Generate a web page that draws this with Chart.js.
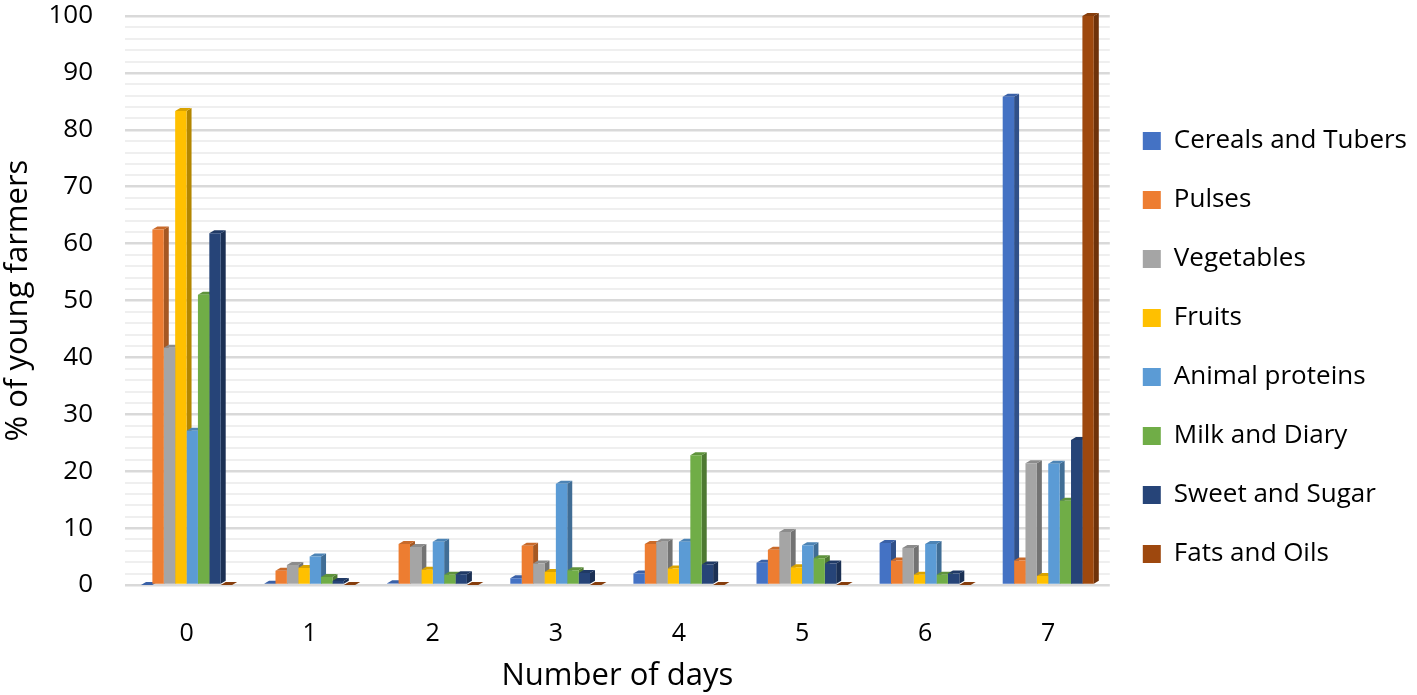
<!DOCTYPE html>
<html>
<head>
<meta charset="utf-8">
<script src="https://cdn.jsdelivr.net/npm/chart.js@4/dist/chart.umd.min.js"></script>
<style>
  html, body { margin: 0; padding: 0; background: #fff; }
  #wrap { width: 1417px; height: 695px; }
</style>
</head>
<body>
<div id="wrap"><canvas id="chart"></canvas></div>
<script>
const days = ["0", "1", "2", "3", "4", "5", "6", "7"];

const cereals = [0, 0.2, 0.3, 1.2, 2, 3.9, 7.4, 85.8];
const pulses = [62.5, 2.5, 7.2, 6.9, 7.2, 6.2, 4.3, 4.3];
const vegetables = [41.7, 3.5, 6.7, 3.8, 7.6, 9.3, 6.5, 21.4];
const fruits = [83.3, 3, 2.7, 2.3, 2.9, 3.1, 1.8, 1.6];
const animalProteins = [27.1, 5, 7.6, 17.8, 7.6, 7, 7.2, 21.3];
const milkDiary = [51, 1.4, 1.8, 2.6, 22.8, 4.7, 1.8, 14.8];
const sweetSugar = [61.8, 0.7, 1.9, 2.1, 3.6, 3.8, 2, 25.5];
const fatsOils = [0, 0, 0, 0, 0, 0, 0, 100];

const yTicks = [0, 10, 20, 30, 40, 50, 60, 70, 80, 90, 100];

const series = [
  { label: "Cereals and Tubers", data: cereals, color: "#4472C4" },
  { label: "Pulses", data: pulses, color: "#ED7D31" },
  { label: "Vegetables", data: vegetables, color: "#A5A5A5" },
  { label: "Fruits", data: fruits, color: "#FFC000" },
  { label: "Animal proteins", data: animalProteins, color: "#5B9BD5" },
  { label: "Milk and Diary", data: milkDiary, color: "#70AD47" },
  { label: "Sweet and Sugar", data: sweetSugar, color: "#264478" },
  { label: "Fats and Oils", data: fatsOils, color: "#9E480E" },
];

function shade(hex, k) {
  const n = parseInt(hex.slice(1), 16);
  const r = Math.round(((n >> 16) & 255) * k);
  const g = Math.round(((n >> 8) & 255) * k);
  const b = Math.round((n & 255) * k);
  return `rgb(${r},${g},${b})`;
}

// fake excel 3d look: side + top faces drawn under the bar fronts
const depthFaces = {
  id: "depthFaces",
  beforeDatasetsDraw(chart) {
    const ctx = chart.ctx;
    const dx = 5, dy = -3;
    ctx.save();
    chart.data.datasets.forEach((ds, i) => {
      const meta = chart.getDatasetMeta(i);
      meta.data.forEach((bar) => {
        const { x, y, base, width } = bar.getProps(["x", "y", "base", "width"], true);
        const l = x - width / 2, r = x + width / 2;
        ctx.fillStyle = shade(ds.backgroundColor, 0.7);
        ctx.beginPath();
        ctx.moveTo(r, y);
        ctx.lineTo(r + dx, y + dy);
        ctx.lineTo(r + dx, base + dy);
        ctx.lineTo(r, base);
        ctx.closePath();
        ctx.fill();
        ctx.fillStyle = shade(ds.backgroundColor, 0.85);
        ctx.beginPath();
        ctx.moveTo(l, y);
        ctx.lineTo(l + dx, y + dy);
        ctx.lineTo(r + dx, y + dy);
        ctx.lineTo(r, y);
        ctx.closePath();
        ctx.fill();
      });
    });
    ctx.restore();
  },
};

const font = "'Open Sans', Lato, sans-serif";

new Chart(document.getElementById("chart"), {
  type: "bar",
  data: {
    labels: days,
    datasets: series.map((s) => ({
      label: s.label,
      data: s.data,
      backgroundColor: s.color,
      borderWidth: 0,
      categoryPercentage: 0.74,
      barPercentage: 1.0,
    })),
  },
  plugins: [depthFaces],
  options: {
    responsive: true,
    maintainAspectRatio: false,
    animation: false,
    layout: { padding: 0 },
    plugins: {
      tooltip: { enabled: false },
      legend: {
        position: "right",
        labels: {
          color: "#000",
          font: { family: font, size: 26 },
          boxWidth: 18,
          boxHeight: 18,
          padding: 33,
        },
      },
    },
    scales: {
      x: {
        grid: { display: false, drawTicks: false },
        border: { display: false },
        ticks: { color: "#000", padding: 34, font: { family: font, size: 25 } },
        title: {
          display: true,
          text: "Number of days",
          color: "#000",
          font: { family: font, size: 31 },
          padding: { top: 0, bottom: 0 },
        },
        afterFit(axis) {
          axis.height = 110;
        },
      },
      y: {
        min: 0,
        max: 100,
        border: { display: false },
        grid: {
          color: (c) => (c.tick.value % 10 === 0 ? "#d9d9d9" : "#efefef"),
          lineWidth: (c) => (c.tick.value % 10 === 0 ? 2.5 : 2),
          drawTicks: false,
        },
        afterBuildTicks(axis) {
          const t = [];
          for (let v = 0; v <= 100; v += 2) t.push({ value: v });
          axis.ticks = t;
        },
        afterFit(axis) {
          axis.width = 125;
          axis.paddingTop = 16;
          axis.paddingBottom = 0;
        },
        ticks: {
          autoSkip: false,
          color: "#000",
          padding: 32,
          font: { family: font, size: 26 },
          callback: (v) => (yTicks.includes(v) ? String(v) : ""),
        },
        title: {
          display: true,
          text: "% of young farmers",
          color: "#000",
          font: { family: font, size: 31 },
          padding: { top: 0, bottom: 0 },
        },
      },
    },
  },
});
</script>
</body>
</html>
